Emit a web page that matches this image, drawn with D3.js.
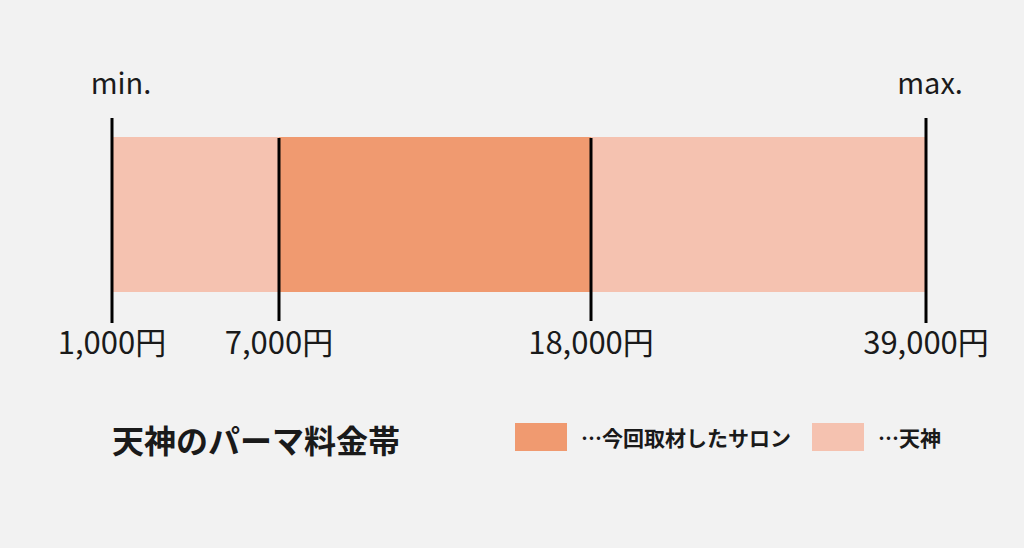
<!DOCTYPE html>
<html>
<head>
<meta charset="utf-8">
<script src="https://cdn.jsdelivr.net/npm/d3@7"></script>
<style>
  html, body { margin: 0; padding: 0; background: #f2f2f2; }
  text { font-family: "Noto Sans CJK JP", "Noto Sans", sans-serif; fill: #1a1a1a; }
</style>
</head>
<body>
<div class="chart"></div>
<script>
// price stops (yen) and how they are labelled
const stops = [1000, 7000, 18000, 39000]
const stopLabels = ["1,000円", "7,000円", "18,000円", "39,000円"]
const endLabels = ["min.", "max."]

// segments between stops
const segFrom = [1000, 7000, 18000]
const segTo = [7000, 18000, 39000]
const segGroup = ["tenjin", "salon", "tenjin"]

// legend
const legendKeys = ["salon", "tenjin"]
const legendNames = ["…今回取材したサロン", "…天神"]
const title = "天神のパーマ料金帯"

const width = 1024
const height = 548

const color = d3.scaleOrdinal()
  .domain(legendKeys)
  .range(["#f09a70", "#f5c2b0"])

// the picture is a schematic: each stop sits at its own spot, linear between them
const x = d3.scaleLinear()
  .domain(stops)
  .range([112, 279, 591, 926])

const barTop = 137
const barBottom = 292

const svg = d3.select(".chart")
  .append("svg")
  .attr("width", width)
  .attr("height", height)

svg.append("rect")
  .attr("width", width)
  .attr("height", height)
  .attr("fill", "#f2f2f2")

const segs = segFrom.map((d, i) => ({from: d, to: segTo[i], group: segGroup[i]}))

svg.selectAll("rect.seg")
  .data(segs)
  .enter()
  .append("rect")
  .attr("class", "seg")
  .attr("x", d => x(d.from))
  .attr("y", barTop)
  .attr("width", d => x(d.to) - x(d.from))
  .attr("height", barBottom - barTop)
  .attr("fill", d => color(d.group))

// tick marks: the two ends stick out further above the bar
const isEnd = (i) => i === 0 || i === stops.length - 1

svg.selectAll("line.tick")
  .data(stops)
  .enter()
  .append("line")
  .attr("class", "tick")
  .attr("x1", d => x(d))
  .attr("x2", d => x(d))
  .attr("y1", (d, i) => isEnd(i) ? 118 : 138)
  .attr("y2", (d, i) => isEnd(i) ? 323 : 321)
  .attr("stroke", "#000")
  .attr("stroke-width", 3)

svg.selectAll("text.stop")
  .data(stops)
  .enter()
  .append("text")
  .attr("class", "stop")
  .attr("x", d => x(d))
  .attr("y", 354)
  .attr("text-anchor", "middle")
  .attr("font-size", "31px")
  .text((d, i) => stopLabels[i])

svg.selectAll("text.end")
  .data([stops[0], stops[stops.length - 1]])
  .enter()
  .append("text")
  .attr("class", "end")
  .attr("x", (d, i) => x(d) + (i === 0 ? 9 : 4))
  .attr("y", 94)
  .attr("text-anchor", "middle")
  .attr("font-size", "29px")
  .text((d, i) => endLabels[i])

// title
svg.append("text")
  .attr("x", 112)
  .attr("y", 439)
  .attr("dominant-baseline", "central")
  .attr("font-size", "32px")
  .attr("font-weight", "bold")
  .text(title)

// legend
const legendX = [515, 812]

const lg = svg.selectAll("g.legend")
  .data(legendKeys)
  .enter()
  .append("g")
  .attr("class", "legend")
  .attr("transform", (d, i) => "translate(" + legendX[i] + ", 423)")

lg.append("rect")
  .attr("width", 52)
  .attr("height", 28)
  .attr("fill", d => color(d))

lg.append("text")
  .attr("x", 66)
  .attr("y", 14)
  .attr("dominant-baseline", "central")
  .attr("font-size", "21px")
  .attr("font-weight", "bold")
  .text((d, i) => legendNames[i])
</script>
</body>
</html>
